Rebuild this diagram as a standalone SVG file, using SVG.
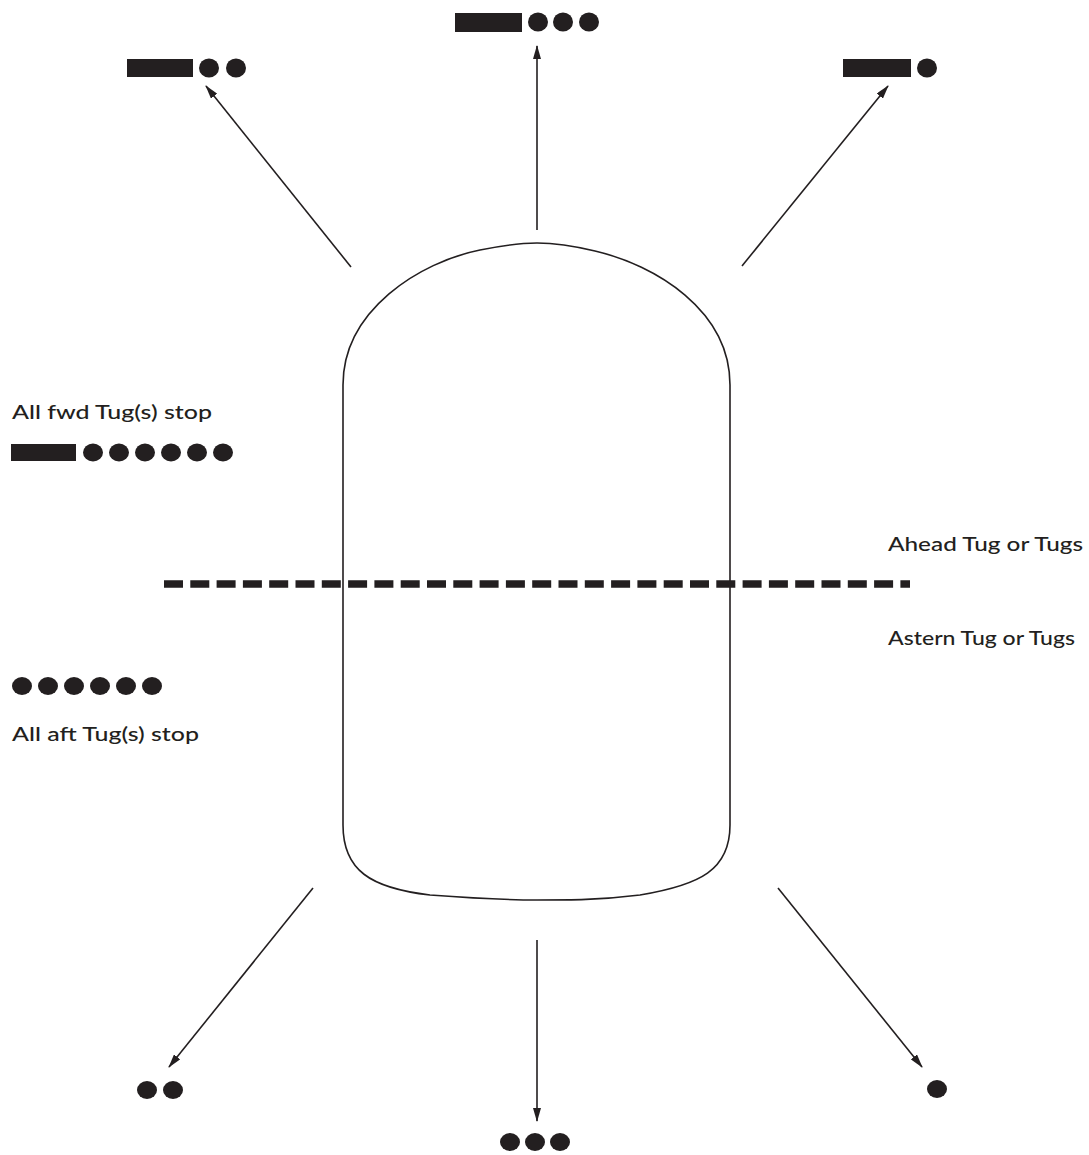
<svg xmlns="http://www.w3.org/2000/svg" width="1089" height="1155" viewBox="0 0 1089 1155">
<style>
.lbl{font-family:Lato,"Open Sans","Liberation Sans",sans-serif;font-size:20px;font-weight:500;fill:#231f20}
.sig{fill:#231f20}
.ln{stroke:#231f20;stroke-width:1.6;fill:none}
</style>
<defs>
<marker id="ah" viewBox="0 0 14 8" refX="13" refY="4" markerWidth="14" markerHeight="8" markerUnits="userSpaceOnUse" orient="auto">
<path d="M0,0 L14,4 L0,8 Z" fill="#231f20"/>
</marker>
</defs>
<rect width="1089" height="1155" fill="#fff"/>
<g id="ship">
<path class="ln" d="M343,385 C343,310 420,262 480,250 C505,245 520,243 537,243 C554,243 570,245 595,251 C655,265 730,310 730,385 L730,825 C730,870 700,885 640,895 C600,900 570,900 537,900 C500,900 470,898 430,895 C370,888 343,870 343,825 Z"/>
</g>
<g id="divider">
<line x1="164" y1="584" x2="910" y2="584" stroke="#231f20" stroke-width="7.5" stroke-dasharray="19 7.3"/>
</g>
<g id="connectors">
<line class="ln" x1="351" y1="267" x2="206" y2="86" marker-end="url(#ah)"/>
<line class="ln" x1="537" y1="230" x2="537" y2="46" marker-end="url(#ah)"/>
<line class="ln" x1="742" y1="266" x2="888" y2="86" marker-end="url(#ah)"/>
<line class="ln" x1="313" y1="888" x2="169" y2="1067" marker-end="url(#ah)"/>
<line class="ln" x1="537" y1="940" x2="537" y2="1121" marker-end="url(#ah)"/>
<line class="ln" x1="778" y1="888" x2="922" y2="1067" marker-end="url(#ah)"/>
</g>
<g id="sig-top-left" class="sig">
<rect x="127" y="59" width="66" height="18"/>
<ellipse cx="209" cy="68" rx="10" ry="9.5"/>
<ellipse cx="236" cy="68" rx="10" ry="9.5"/>
</g>
<g id="sig-top-center" class="sig">
<rect x="455" y="13" width="67" height="19"/>
<ellipse cx="538" cy="22" rx="10" ry="9.5"/>
<ellipse cx="563" cy="22" rx="10" ry="9.5"/>
<ellipse cx="589" cy="22" rx="10" ry="9.5"/>
</g>
<g id="sig-top-right" class="sig">
<rect x="843" y="59" width="68" height="18"/>
<ellipse cx="927" cy="68" rx="10" ry="9.5"/>
</g>
<g id="fwd-stop">
<text class="lbl" x="12" y="419" textLength="200" lengthAdjust="spacingAndGlyphs">All fwd Tug(s) stop</text>
<g class="sig">
<rect x="11" y="444" width="65" height="17"/>
<ellipse cx="93" cy="452.5" rx="10" ry="9"/>
<ellipse cx="119" cy="452.5" rx="10" ry="9"/>
<ellipse cx="145" cy="452.5" rx="10" ry="9"/>
<ellipse cx="171" cy="452.5" rx="10" ry="9"/>
<ellipse cx="197" cy="452.5" rx="10" ry="9"/>
<ellipse cx="223" cy="452.5" rx="10" ry="9"/>
</g>
</g>
<g id="aft-stop">
<g class="sig">
<ellipse cx="22" cy="686" rx="10" ry="9"/>
<ellipse cx="48" cy="686" rx="10" ry="9"/>
<ellipse cx="74" cy="686" rx="10" ry="9"/>
<ellipse cx="100" cy="686" rx="10" ry="9"/>
<ellipse cx="126" cy="686" rx="10" ry="9"/>
<ellipse cx="152" cy="686" rx="10" ry="9"/>
</g>
<text class="lbl" x="12" y="741" textLength="187" lengthAdjust="spacingAndGlyphs">All aft Tug(s) stop</text>
</g>
<g id="ahead">
<text class="lbl" x="888" y="551" textLength="195" lengthAdjust="spacingAndGlyphs">Ahead Tug or Tugs</text>
</g>
<g id="astern">
<text class="lbl" x="888" y="645" textLength="187" lengthAdjust="spacingAndGlyphs">Astern Tug or Tugs</text>
</g>
<g id="sig-bottom-left" class="sig">
<ellipse cx="147" cy="1090" rx="10" ry="9"/>
<ellipse cx="173" cy="1090" rx="10" ry="9"/>
</g>
<g id="sig-bottom-center" class="sig">
<ellipse cx="510" cy="1142" rx="10" ry="9"/>
<ellipse cx="535" cy="1142" rx="10" ry="9"/>
<ellipse cx="560" cy="1142" rx="10" ry="9"/>
</g>
<g id="sig-bottom-right" class="sig">
<ellipse cx="937" cy="1089" rx="10" ry="9"/>
</g>
</svg>
